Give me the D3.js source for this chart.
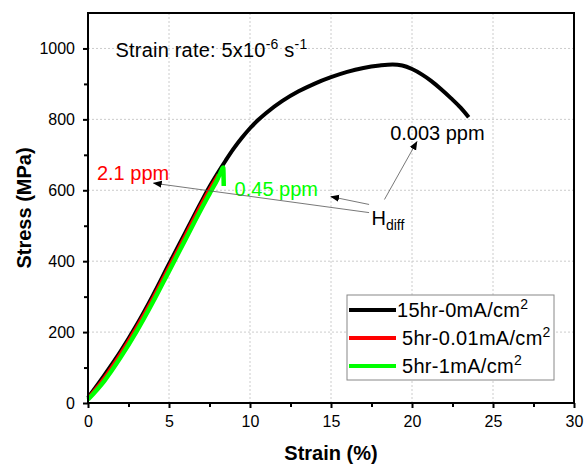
<!DOCTYPE html>
<html>
<head>
<meta charset="utf-8">
<script src="https://cdn.jsdelivr.net/npm/d3@7"></script>
<style>
  body { margin: 0; background: #fff; }
  text { font-family: "Liberation Sans", Arial, sans-serif; }
</style>
</head>
<body>
<div id="chart"></div>
<script>
// stress-strain curves
var strainBlack = [0, 1, 2, 3, 4, 5, 6, 7, 7.5, 8, 8.5, 9, 9.5, 10, 10.5, 11, 12, 13, 14, 15, 16, 17, 18, 18.8, 19.4, 20, 20.6, 21.2, 21.8, 22.4, 23, 23.5];
var stressBlack = [15, 78, 145, 220, 303, 392, 480, 568, 610, 648, 684, 718, 748, 775, 798, 818, 852, 879, 901, 919, 934, 945, 952, 955, 952, 942, 927, 908, 885, 860, 833, 806];

var strainRed = [0, 1, 2, 3, 4, 5, 6, 7, 7.5, 8.04];
var stressRed = [14, 72, 140, 215, 297, 386, 474, 563, 604, 645];

var strainGreen = [0, 1, 2, 3, 4, 5, 6, 7, 7.5, 8, 8.2, 8.35, 8.38];
var stressGreen = [10, 62, 128, 202, 284, 372, 460, 548, 590, 632, 652, 664, 612];

var seriesNames = ["15hr-0mA/cm", "5hr-0.01mA/cm", "5hr-1mA/cm"];
var seriesColors = ["#000000", "#ff0000", "#00ff00"];
var seriesWidths = [4, 3, 4.5];

var xTicks = [0, 5, 10, 15, 20, 25, 30];
var yTicks = [0, 200, 400, 600, 800, 1000];

var width = 584, height = 464;
var margin = {left: 88, top: 13, right: 10, bottom: 61};
var w = width - margin.left - margin.right;
var h = height - margin.top - margin.bottom;

var svg = d3.select("#chart").append("svg")
    .attr("width", width)
    .attr("height", height);

var x = d3.scaleLinear().domain([0, 30]).range([0, w]);
var y = d3.scaleLinear().domain([0, 1100]).range([h, 0]);

var g = svg.append("g")
    .attr("transform", "translate(" + margin.left + "," + margin.top + ")");

// dotted grid
g.selectAll(".gx").data(xTicks.slice(1, -1)).enter().append("line")
    .attr("x1", d => x(d)).attr("x2", d => x(d))
    .attr("y1", 0).attr("y2", h)
    .attr("stroke", "#cccccc").attr("stroke-width", 1)
    .attr("stroke-dasharray", "2,2");
g.selectAll(".gy").data(yTicks.slice(1)).enter().append("line")
    .attr("x1", 0).attr("x2", w)
    .attr("y1", d => y(d)).attr("y2", d => y(d))
    .attr("stroke", "#cccccc").attr("stroke-width", 1)
    .attr("stroke-dasharray", "2,2");

// minor ticks
g.append("g")
    .attr("transform", "translate(0," + h + ")")
    .call(d3.axisBottom(x).tickValues(d3.range(2.5, 30, 5)).tickSize(4).tickFormat(""))
    .call(a => a.select(".domain").remove())
    .selectAll("line").attr("stroke-width", 2);
g.append("g")
    .call(d3.axisLeft(y).tickValues(d3.range(100, 1100, 200)).tickSize(4).tickFormat(""))
    .call(a => a.select(".domain").remove())
    .selectAll("line").attr("stroke-width", 2);

// major ticks + labels
var xAxis = g.append("g")
    .attr("transform", "translate(0," + h + ")")
    .call(d3.axisBottom(x).tickValues(xTicks).tickSize(5).tickPadding(8).tickFormat(d3.format("d")));
var yAxis = g.append("g")
    .call(d3.axisLeft(y).tickValues(yTicks).tickSize(5).tickPadding(8).tickFormat(d3.format("d")));
[xAxis, yAxis].forEach(function(a) {
    a.select(".domain").remove();
    a.selectAll("line").attr("stroke-width", 2);
    a.selectAll("text")
        .style("font-family", "'Liberation Sans', Arial, sans-serif")
        .style("font-size", "16px").attr("fill", "#000");
});

// curves
var line = d3.line()
    .x(d => x(d[0]))
    .y(d => y(d[1]))
    .curve(d3.curveMonotoneX);

var curves = [
    d3.zip(strainBlack, stressBlack),
    d3.zip(strainRed, stressRed),
    d3.zip(strainGreen, stressGreen)
];
curves.forEach(function(c, i) {
    g.append("path")
        .datum(c)
        .attr("fill", "none")
        .attr("stroke", seriesColors[i])
        .attr("stroke-width", seriesWidths[i])
        .attr("stroke-linejoin", "round")
        .attr("d", line);
});

// frame
g.append("rect")
    .attr("width", w).attr("height", h)
    .attr("fill", "none")
    .attr("stroke", "#000").attr("stroke-width", 2);

// axis titles
svg.append("text")
    .attr("x", margin.left + w / 2).attr("y", 460)
    .attr("text-anchor", "middle")
    .style("font-size", "20px").style("font-weight", "bold")
    .text("Strain (%)");
svg.append("text")
    .attr("transform", "translate(31," + (margin.top + h / 2) + ") rotate(-90)")
    .attr("text-anchor", "middle")
    .style("font-size", "20px").style("font-weight", "bold")
    .text("Stress (MPa)");

// annotations
var rate = g.append("text")
    .attr("x", x(1.7)).attr("y", y(976))
    .style("font-size", "20px").style("letter-spacing", "0.2px");
rate.append("tspan").text("Strain rate: 5x10");
rate.append("tspan").attr("dy", -8).style("font-size", "14px").text("-6");
rate.append("tspan").attr("dy", 8).text(" s");
rate.append("tspan").attr("dy", -8).style("font-size", "14px").text("-1");

var labelText = ["2.1 ppm", "0.45 ppm", "0.003 ppm"];
var labelX = [0.55, 9.05, 18.65];
var labelY = [629, 585, 741];
var labelColor = ["#ff0000", "#00ff00", "#000000"];
labelText.forEach(function(t, i) {
    g.append("text")
        .attr("x", x(labelX[i])).attr("y", y(labelY[i]))
        .attr("fill", labelColor[i])
        .style("font-size", "20px")
        .text(t);
});

var hd = g.append("text")
    .attr("x", x(17.5)).attr("y", y(502))
    .style("font-size", "20px");
hd.append("tspan").text("H");
hd.append("tspan").attr("dy", 5).style("font-size", "14px").text("diff");

// arrows from H_diff
svg.append("defs").append("marker")
    .attr("id", "arrow")
    .attr("viewBox", "0 0 10 10")
    .attr("refX", 9).attr("refY", 5)
    .attr("markerWidth", 9).attr("markerHeight", 9)
    .attr("markerUnits", "userSpaceOnUse")
    .attr("orient", "auto")
    .append("path").attr("d", "M0,1L10,5L0,9z").attr("fill", "#000");

var arrowFrom = [[17.35, 537], [17.35, 560], [18.3, 574]];
var arrowTo = [[4.05, 620], [15.0, 582], [20.3, 737]];
arrowFrom.forEach(function(f, i) {
    g.append("line")
        .attr("x1", x(f[0])).attr("y1", y(f[1]))
        .attr("x2", x(arrowTo[i][0])).attr("y2", y(arrowTo[i][1]))
        .attr("stroke", "#555").attr("stroke-width", 0.8)
        .attr("marker-end", "url(#arrow)");
});

// legend
var lg = svg.append("g").attr("transform", "translate(347,295)");
lg.append("rect")
    .attr("width", 207).attr("height", 85)
    .attr("fill", "#fff").attr("stroke", "#888").attr("stroke-width", 1);
seriesNames.forEach(function(n, i) {
    var ry = 15 + i * 28;
    lg.append("line")
        .attr("x1", 2).attr("x2", 49)
        .attr("y1", ry).attr("y2", ry)
        .attr("stroke", seriesColors[i]).attr("stroke-width", 4);
    var t = lg.append("text")
        .attr("x", i === 0 ? 50 : 55).attr("y", ry + 7)
        .style("font-size", "20px").style("letter-spacing", "0.3px");
    t.append("tspan").text(n);
    t.append("tspan").attr("dy", -8).style("font-size", "14px").text("2");
});
</script>
</body>
</html>
